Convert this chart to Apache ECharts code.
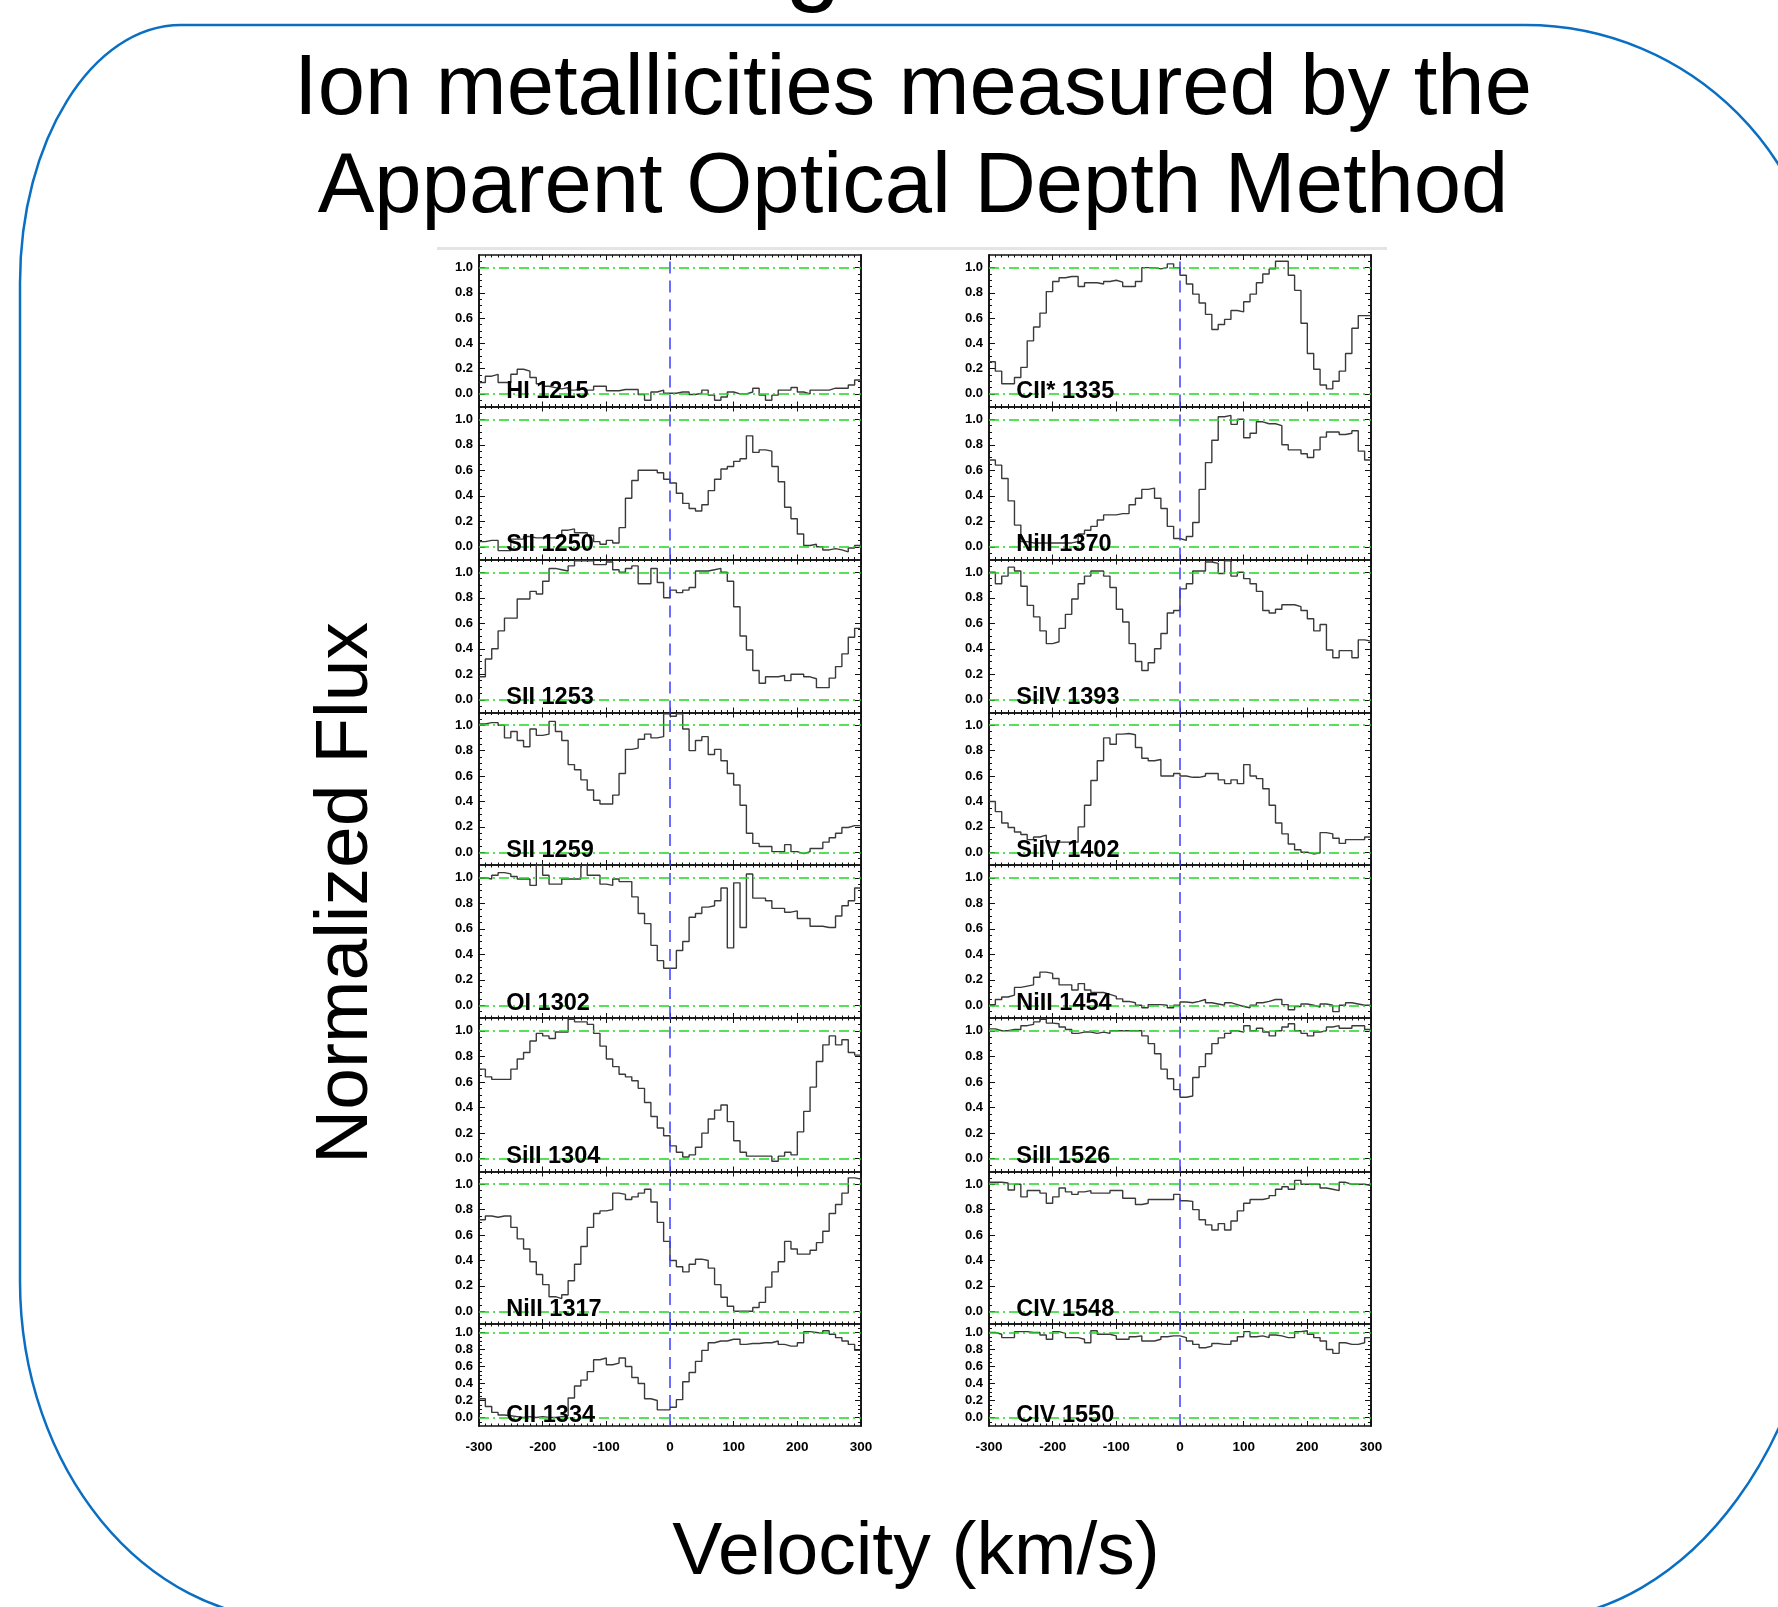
<!DOCTYPE html>
<html><head><meta charset="utf-8">
<script src="https://cdn.jsdelivr.net/npm/echarts@6/dist/echarts.min.js"></script>
<style>html,body{margin:0;padding:0;background:#fff;}#c{width:1778px;height:1607px;}</style>
</head><body><div id="c"></div>
<script>
// ---------- data ----------
const VELOCITY_EDGES = [-300,-290,-280,-270,-260,-250,-240,-230,-220,-210,-200,-190,-180,-170,-160,-150,-140,-130,-120,-110,-100,-90,-80,-70,-60,-50,-40,-30,-20,-10,0,10,20,30,40,50,60,70,80,90,100,110,120,130,140,150,160,170,180,190,200,210,220,230,240,250,260,270,280,290,300];
const X_TICK_LABELS = [-300,-200,-100,0,100,200,300];
const Y_TICK_LABELS = [0.0,0.2,0.4,0.6,0.8,1.0];
const Y_MINOR_TICKS = [-0.05,0,0.05,0.1,0.15,0.2,0.25,0.3,0.35,0.4,0.45,0.5,0.55,0.6,0.65,0.7,0.75,0.8,0.85,0.9,0.95,1.0,1.05];

const LEFT_LABELS  = ['HI 1215','SII 1250','SII 1253','SII 1259','OI 1302','SiII 1304','NiII 1317','CII 1334'];
const RIGHT_LABELS = ['CII* 1335','NiII 1370','SiIV 1393','SiIV 1402','NiII 1454','SiII 1526','CIV 1548','CIV 1550'];

const HI_1215 = [0.09,0.14,0.155,0.09,0.09,0.155,0.195,0.18,0.13,0.08,0.06,0.05,0.04,0.05,0.03,0.04,0.03,0.03,0.06,0.06,0.025,0.025,0.035,0.035,0.035,-0.005,-0.05,0.015,0.03,0.005,0.005,0.015,0.015,-0.005,0.005,0.03,-0.01,-0.05,-0.025,0.015,0.0,0.0,0.015,0.045,-0.01,-0.05,-0.01,0.03,0.03,0.05,0.015,0.0,0.03,0.03,0.03,0.045,0.045,0.045,0.07,0.11];
const SII_1250 = [0.04,0.05,0.05,-0.03,-0.03,0.06,0.06,0.08,0.07,0.07,0.07,0.07,0.08,0.13,0.14,0.11,0.11,0.09,0.04,0.02,0.05,0.03,0.15,0.38,0.52,0.6,0.6,0.6,0.58,0.53,0.5,0.42,0.34,0.3,0.28,0.33,0.44,0.53,0.61,0.63,0.67,0.69,0.87,0.74,0.76,0.75,0.63,0.51,0.31,0.22,0.1,0.01,0.02,0.0,-0.025,-0.015,-0.025,-0.04,-0.01,0.01];
const SII_1253 = [0.18,0.32,0.40,0.54,0.64,0.64,0.79,0.79,0.85,0.83,0.93,1.03,1.02,1.01,1.05,1.09,1.09,1.09,1.06,1.06,1.08,1.02,1.0,1.03,1.05,0.91,0.91,1.03,0.92,0.80,0.86,0.84,0.86,0.88,1.01,1.01,1.02,1.03,1.0,0.93,0.73,0.50,0.39,0.23,0.13,0.18,0.18,0.19,0.15,0.20,0.20,0.18,0.165,0.095,0.095,0.17,0.26,0.36,0.49,0.56];
const SII_1259 = [1.01,1.02,1.02,1.0,0.9,0.95,0.88,0.83,0.97,0.92,0.93,1.03,0.95,0.88,0.69,0.65,0.57,0.49,0.41,0.38,0.38,0.45,0.62,0.81,0.82,0.89,0.93,0.9,0.91,1.09,1.07,1.09,0.97,0.80,0.88,0.91,0.77,0.81,0.72,0.62,0.53,0.37,0.15,0.07,0.045,0.045,0.005,0.005,0.06,0.005,-0.01,0.005,0.03,0.03,0.08,0.115,0.15,0.195,0.21,0.21];
const OI_1302 = [1.0,0.99,1.02,1.04,1.03,1.01,0.99,0.99,0.94,1.1,1.02,0.95,0.95,0.99,0.99,0.99,1.1,1.02,1.02,0.95,0.94,0.99,0.97,0.97,0.85,0.72,0.64,0.47,0.35,0.29,0.29,0.43,0.50,0.69,0.72,0.77,0.78,0.82,0.92,0.45,0.96,0.61,1.03,0.84,0.84,0.82,0.76,0.76,0.73,0.74,0.68,0.68,0.62,0.62,0.61,0.61,0.70,0.78,0.82,0.92];
const SIII_1304 = [0.70,0.64,0.62,0.62,0.62,0.70,0.78,0.83,0.92,0.98,0.96,0.94,0.99,0.99,1.09,1.07,1.07,1.05,0.98,0.88,0.78,0.72,0.66,0.64,0.61,0.55,0.44,0.33,0.24,0.18,0.10,0.05,0.013,0.03,0.09,0.20,0.31,0.38,0.42,0.29,0.14,0.05,0.02,0.02,0.02,0.02,-0.02,0.02,0.05,0.03,0.21,0.37,0.56,0.76,0.89,0.96,0.89,0.93,0.83,0.81];
const NIII_1317 = [0.72,0.75,0.74,0.75,0.75,0.66,0.57,0.49,0.39,0.29,0.21,0.115,0.10,0.13,0.24,0.37,0.51,0.66,0.77,0.79,0.80,0.93,0.92,0.88,0.90,0.93,0.96,0.86,0.70,0.55,0.40,0.35,0.31,0.37,0.41,0.40,0.34,0.21,0.11,0.04,0.0,0.0,0.0,0.03,0.07,0.19,0.31,0.39,0.55,0.49,0.45,0.45,0.48,0.54,0.63,0.77,0.84,0.93,1.05,1.04];
const CII_1334 = [0.22,0.13,0.06,0.03,0.02,0.01,0.0,0.01,0.0,0.01,0.0,0.0,0.01,0.02,0.23,0.37,0.44,0.54,0.68,0.70,0.62,0.64,0.70,0.60,0.47,0.40,0.22,0.20,0.09,0.09,0.12,0.21,0.42,0.53,0.66,0.79,0.88,0.90,0.90,0.92,0.92,0.86,0.87,0.87,0.88,0.88,0.90,0.86,0.84,0.84,0.88,1.01,1.0,0.99,1.02,0.98,0.94,0.90,0.86,0.79];

const CIIS_1335 = [0.255,0.18,0.08,0.08,0.13,0.21,0.42,0.53,0.64,0.81,0.89,0.92,0.93,0.93,0.85,0.88,0.88,0.87,0.89,0.90,0.885,0.85,0.85,0.89,1.0,1.0,0.99,1.0,1.03,1.0,0.94,0.87,0.79,0.72,0.63,0.51,0.55,0.59,0.66,0.65,0.73,0.79,0.88,0.95,0.99,1.05,1.05,0.94,0.82,0.56,0.32,0.195,0.07,0.04,0.10,0.18,0.32,0.52,0.62,0.62];
const NIII_1370 = [0.68,0.64,0.535,0.36,0.17,0.04,0.03,0.03,0.03,0.03,0.03,0.03,0.03,0.04,0.10,0.13,0.16,0.21,0.25,0.25,0.26,0.26,0.33,0.38,0.45,0.46,0.38,0.30,0.16,0.065,0.05,0.08,0.19,0.45,0.66,0.835,1.02,1.03,0.96,1.0,0.855,0.89,0.98,0.965,0.965,0.95,0.80,0.76,0.76,0.73,0.70,0.76,0.86,0.90,0.90,0.88,0.89,0.91,0.75,0.68];
const SIIV_1393 = [1.0,0.91,0.97,1.04,1.01,0.89,0.74,0.65,0.54,0.44,0.455,0.56,0.67,0.79,0.91,0.97,1.01,1.01,0.97,0.88,0.71,0.61,0.44,0.30,0.23,0.29,0.40,0.52,0.68,0.70,0.87,0.91,1.01,1.01,1.08,1.07,0.99,1.09,0.97,1.0,0.95,0.91,0.85,0.70,0.68,0.71,0.745,0.745,0.73,0.70,0.635,0.54,0.59,0.39,0.33,0.385,0.385,0.33,0.47,0.46];
const SIIV_1402 = [0.40,0.32,0.23,0.195,0.16,0.14,0.10,0.12,0.135,0.08,0.08,0.08,0.08,0.08,0.20,0.37,0.565,0.72,0.90,0.85,0.93,0.935,0.925,0.825,0.74,0.72,0.73,0.60,0.60,0.62,0.60,0.59,0.59,0.60,0.62,0.62,0.57,0.54,0.57,0.54,0.69,0.60,0.58,0.50,0.37,0.23,0.145,0.065,0.02,0.0,-0.013,-0.005,0.155,0.145,0.11,0.07,0.10,0.10,0.10,0.12];
const NIII_1454 = [0.005,0.045,0.065,0.08,0.14,0.15,0.16,0.22,0.26,0.25,0.21,0.16,0.16,0.12,0.17,0.12,0.10,0.10,0.085,0.07,0.05,0.03,0.02,0.0,-0.02,0.005,0.005,0.0,-0.02,0.0,0.025,0.02,0.03,0.045,0.02,0.01,0.0,0.02,0.005,-0.01,-0.02,0.0,0.02,0.03,0.045,0.045,0.005,-0.035,-0.01,0.01,0.0,-0.015,0.01,0.0,-0.05,0.0,0.02,0.01,0.0,0.0];
const SIII_1526 = [1.015,1.0,1.0,1.01,1.01,1.04,1.05,1.07,1.09,1.06,1.055,1.03,1.01,0.98,0.99,0.99,0.98,0.99,0.98,1.0,1.0,1.0,1.0,1.0,0.96,0.90,0.82,0.70,0.625,0.54,0.48,0.49,0.635,0.72,0.82,0.90,0.945,0.98,1.0,0.99,1.04,1.0,1.02,0.99,0.96,1.0,1.03,1.055,1.0,0.98,0.96,0.99,1.0,1.03,1.04,1.02,1.02,1.04,1.04,1.01];
const CIV_1548 = [1.015,1.015,1.01,0.955,1.0,0.90,0.95,0.95,0.93,0.85,0.90,0.97,0.94,0.92,0.94,0.95,0.93,0.93,0.93,0.95,0.95,0.89,0.89,0.84,0.85,0.88,0.88,0.88,0.88,0.92,0.87,0.865,0.80,0.72,0.68,0.64,0.69,0.64,0.71,0.79,0.85,0.88,0.88,0.89,0.91,0.96,0.98,0.96,1.03,1.0,1.0,1.0,0.97,0.96,0.95,1.015,1.0,1.0,1.0,0.99];
const CIV_1550 = [1.0,0.98,0.94,0.94,1.01,1.01,1.0,1.0,0.97,0.92,1.01,0.99,0.94,0.94,0.92,0.88,1.02,0.98,0.98,0.96,0.92,0.92,0.95,0.96,0.90,0.90,0.92,0.95,0.96,0.96,0.94,0.90,0.86,0.82,0.84,0.87,0.86,0.86,0.90,0.95,1.01,0.95,0.96,0.94,0.97,0.96,0.94,0.94,1.01,1.02,0.98,0.94,0.90,0.80,0.755,0.88,0.86,0.86,0.88,0.94];

const LEFT_FLUX  = [HI_1215, SII_1250, SII_1253, SII_1259, OI_1302, SIII_1304, NIII_1317, CII_1334];
const RIGHT_FLUX = [CIIS_1335, NIII_1370, SIIV_1393, SIIV_1402, NIII_1454, SIII_1526, CIV_1548, CIV_1550];

// ---------- layout ----------
const COL_X = [479, 989];
const COL_W = 382;
const ROW_TOPS = [255, 406.5, 559.5, 712.5, 865, 1018, 1171.5, 1324];
const ROW_BOTTOM = 1426;
const AX = '#111';
const GREEN = '#22d822';
const BLUE = '#3c3cff';
const FONT = "'Liberation Sans', Arial, Helvetica, sans-serif";

const grids = [], xAxes = [], yAxes = [], series = [];
let p = 0;
for (let col = 0; col < 2; col++) {
  const labels = col === 0 ? LEFT_LABELS : RIGHT_LABELS;
  const fluxes = col === 0 ? LEFT_FLUX : RIGHT_FLUX;
  for (let row = 0; row < 8; row++) {
    const top = ROW_TOPS[row];
    const bottom = row < 7 ? ROW_TOPS[row + 1] : ROW_BOTTOM;
    grids.push({left: COL_X[col], top: top, width: COL_W, height: bottom - top, containLabel: false});
    const xBase = {type: 'value', gridIndex: p, min: -300, max: 300, interval: 100,
      axisLine: {show: true, onZero: false, lineStyle: {color: AX, width: 1.6}},
      axisTick: {show: true, inside: true, length: 5, lineStyle: {color: AX, width: 1}},
      minorTick: {show: true, splitNumber: 10, length: 2.5, lineStyle: {color: AX, width: 1}},
      splitLine: {show: false}, minorSplitLine: {show: false}};
    xAxes.push(Object.assign({}, xBase, {position: 'bottom',
      axisLabel: {show: row === 7, margin: 14, fontSize: 13.5, fontWeight: 'bold', color: '#000', fontFamily: FONT}}));
    xAxes.push(Object.assign({}, xBase, {position: 'top', axisLabel: {show: false}}));
    const yBase = {type: 'value', gridIndex: p, min: -0.1, max: 1.1,
      splitLine: {show: false},
      axisLine: {show: true, onZero: false, lineStyle: {color: AX, width: 1.6}}};
    const major = {show: true, inside: true, length: 6, customValues: Y_TICK_LABELS, lineStyle: {color: AX, width: 1}};
    const minor = {show: true, inside: true, length: 3, customValues: Y_MINOR_TICKS, lineStyle: {color: AX, width: 1}};
    yAxes.push(Object.assign({}, yBase, {position: 'left', axisTick: major,
      axisLabel: {show: true, customValues: Y_TICK_LABELS, formatter: v => Number(v).toFixed(1), margin: 6,
        fontSize: 13, fontWeight: 'bold', color: '#000', fontFamily: FONT}}));
    yAxes.push(Object.assign({}, yBase, {position: 'left', axisTick: minor, axisLabel: {show: false}}));
    yAxes.push(Object.assign({}, yBase, {position: 'right', axisTick: major, axisLabel: {show: false}}));
    yAxes.push(Object.assign({}, yBase, {position: 'right', axisTick: minor, axisLabel: {show: false}}));

    const flux = fluxes[row];
    const data = flux.map((f, i) => [VELOCITY_EDGES[i], f]);
    data.push([VELOCITY_EDGES[VELOCITY_EDGES.length - 1], flux[flux.length - 1]]);
    series.push({
      type: 'line', xAxisIndex: 2 * p, yAxisIndex: 4 * p, data: data, step: 'end',
      symbol: 'none', showSymbol: false, silent: true, animation: false,
      lineStyle: {color: '#3a3a3a', width: 1.4},
      markLine: {silent: true, symbol: ['none', 'none'], label: {show: false}, animation: false,
        data: [
          {yAxis: 0, lineStyle: {color: GREEN, width: 1.5, type: [10, 4, 2, 4]}},
          {yAxis: 1, lineStyle: {color: GREEN, width: 1.5, type: [10, 4, 2, 4]}},
          {xAxis: 0, lineStyle: {color: BLUE, width: 1.5, type: [12, 7]}}
        ]},
      markPoint: {silent: true, animation: false, symbol: 'circle', symbolSize: 1,
        itemStyle: {color: 'rgba(0,0,0,0)'},
        data: [{coord: [-258, 0], name: labels[row]}],
        label: {show: true, position: 'right', distance: 0, offset: [0, -2], formatter: labels[row],
          fontSize: 23.5, fontWeight: 'bold', color: '#000', fontFamily: FONT}}
    });
    p++;
  }
}

const BORDER = {fill: 'none', stroke: '#0a6fc2', lineWidth: 2.5};
const graphic = [
  {type: 'line', shape: {x1: 181, y1: 25, x2: 1525, y2: 25}, style: BORDER},
  {type: 'bezierCurve', shape: {x1: 1525, y1: 25, cpx1: 1690.7, cpy1: 25, cpx2: 1825, cpy2: 159.3, x2: 1825, y2: 325}, style: BORDER},
  {type: 'bezierCurve', shape: {x1: 1825, y1: 1208, cpx1: 1825, cpy1: 1435.5, cpx2: 1690.7, cpy2: 1620, x2: 1525, y2: 1620}, style: BORDER},
  {type: 'bezierCurve', shape: {x1: 297, y1: 1620, cpx1: 144, cpy1: 1620, cpx2: 20, cpy2: 1468.2, x2: 20, y2: 1281}, style: BORDER},
  {type: 'line', shape: {x1: 20, y1: 1281, x2: 20, y2: 283}, style: BORDER},
  {type: 'bezierCurve', shape: {x1: 20, y1: 283, cpx1: 20, cpy1: 140.5, cpx2: 92.1, cpy2: 25, x2: 181, y2: 25}, style: BORDER},
  {type: 'rect', z: 1, shape: {x: 437, y: 247, width: 950, height: 3}, style: {fill: '#e4e4e4'}},
  {type: 'text', z: 5, x: 813, y: -36, style: {text: 'g', fontSize: 100, fontFamily: FONT, fill: '#000', align: 'center', verticalAlign: 'middle'}},
  {type: 'text', z: 5, x: 913, y: 91, style: {text: 'Ion metallicities measured by the', fontSize: 85, fontFamily: FONT, fill: '#000', align: 'center', verticalAlign: 'middle'}},
  {type: 'text', z: 5, x: 913, y: 189, style: {text: 'Apparent Optical Depth Method', fontSize: 85, fontFamily: FONT, fill: '#000', align: 'center', verticalAlign: 'middle'}},
  {type: 'text', z: 5, x: 916, y: 1553, style: {text: 'Velocity (km/s)', fontSize: 75, fontFamily: FONT, fill: '#000', align: 'center', verticalAlign: 'middle'}},
  {type: 'text', z: 5, x: 346, y: 893, rotation: Math.PI / 2, style: {text: 'Normalized Flux', fontSize: 75, fontFamily: FONT, fill: '#000', align: 'center', verticalAlign: 'middle'}}
];

const chart = echarts.init(document.getElementById('c'), null, {renderer: 'canvas', width: 1778, height: 1607});
chart.setOption({
  backgroundColor: '#ffffff',
  animation: false,
  grid: grids, xAxis: xAxes, yAxis: yAxes, series: series, graphic: graphic
});
</script>
</body></html>
